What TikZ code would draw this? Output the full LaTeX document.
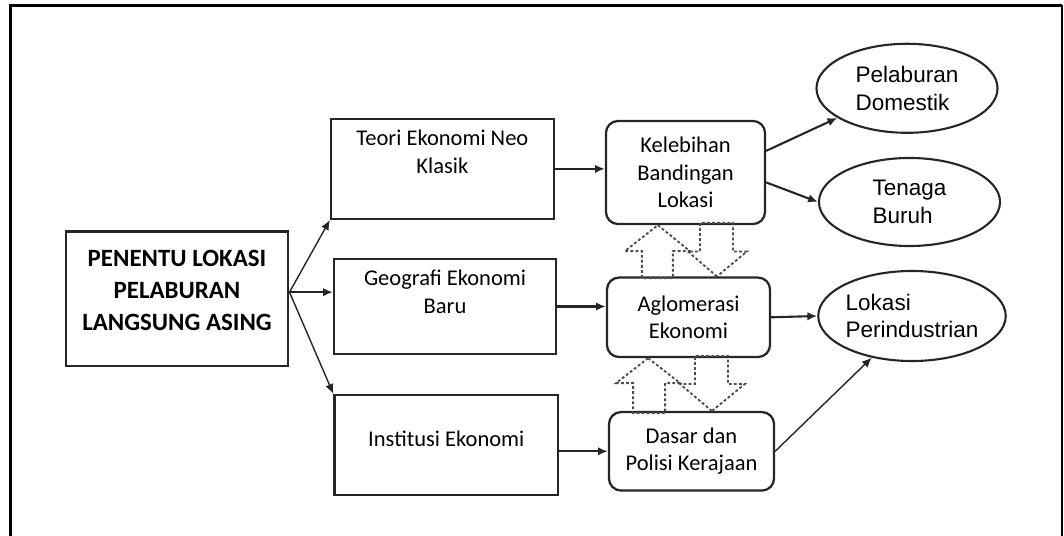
\documentclass[tikz,border=0pt]{standalone}
\usepackage{fontspec}
\setmainfont{Carlito}
\newfontfamily\ellfont{Liberation Sans}
\usetikzlibrary{shapes.geometric,arrows.meta}

\tikzset{
	sqbox/.style={draw=black!85, line width=1.6pt, align=center, text=black, font=\fontsize{16}{19.5}\selectfont},
	rbox/.style={sqbox, rounded corners=0.3cm},
	ell/.style={ellipse, draw=black!85, line width=1.5pt, align=left, inner sep=0pt, text=black, font=\ellfont\fontsize{16}{19.5}\selectfont},
	toptext/.style={anchor=north, align=center, inner sep=0pt, yshift=-0.3cm, text=black, font=\fontsize{16}{19.5}\selectfont},
	midtext/.style={anchor=center, align=center, inner sep=0pt, text=black, font=\fontsize{16}{19.5}\selectfont},
	arr/.style={-{Latex[length=7pt,width=6pt]}, line width=1.5pt, black!85},
	thinarr/.style={arr, line width=1pt},
	blk/.style={draw=black!70, line width=1.3pt, dash pattern=on 2pt off 1.6pt}
}

\begin{document}
\begin{tikzpicture}[x=0.025cm, y=-0.025cm]
	\useasboundingbox (0,0) rectangle (1064,536);
	% frame
	\draw[line width=2.2pt] (10.5,536) -- (10.5,5.5) -- (1062,5.5);
	\draw[line width=1.4pt] (1062,5.5) -- (1062,536);

	% left
	\node[sqbox, line width=1.8pt, minimum width=5.56cm, minimum height=3.36cm, label={[midtext, yshift=0.2cm, font=\bfseries\fontsize{17.7}{22.8}\selectfont]center:PENENTU LOKASI\\PELABURAN\\LANGSUNG ASING}] (main) at (177,298.6) {};

	% middle column
	\node[sqbox, minimum width=5.57cm, minimum height=2.5cm, label={[toptext]north:Teori Ekonomi Neo\\Klasik}] (teori) at (442.4,168.9) {};
	\node[sqbox, minimum width=5.55cm, minimum height=2.375cm, label={[toptext]north:Geografi Ekonomi\\Baru}] (geografi) at (445,306.5) {};
	\node[sqbox, minimum width=5.59cm, minimum height=2.5cm, label={[midtext, yshift=0.15cm]center:Institusi Ekonomi}] (institusi) at (446.3,445) {};

	% rounded boxes
	\node[rbox, minimum width=3.975cm, minimum height=2.575cm] (kelebihan) at (685.5,172.5) {Kelebihan\\Bandingan\\Lokasi};
	\node[rbox, minimum width=4.075cm, minimum height=1.985cm] (aglomerasi) at (688.5,317.3) {Aglomerasi\\Ekonomi};
	\node[rbox, minimum width=4.125cm, minimum height=1.96cm] (dasar) at (691.5,451.3) {Dasar dan\\Polisi Kerajaan};

	% ellipses
	\node[ell, minimum width=4.525cm, minimum height=2.225cm] (pelaburan) at (907,88.3) {Pelaburan\\Domestik};
	\node[ell, minimum width=4.525cm, minimum height=2.2cm] (tenaga) at (909.5,202) {Tenaga\\Buruh};
	\node[ell, minimum width=4.5cm, minimum height=2.25cm] (lokasi) at (912,316) {Lokasi\\Perindustrian};

	% connectors
	\coordinate (fork) at ([yshift=0.16cm]main.east);
	\draw[thinarr] (fork) -- (teori.south west);
	\draw[arr] (fork) -- (fork -| geografi.west);
	\draw[thinarr] (fork) -- (institusi.north west);
	\draw[arr] (teori.east) -- (teori.east -| kelebihan.west);
	\draw[arr] (geografi.east) -- (geografi.east -| aglomerasi.west);
	\draw[arr] (dasar.west -| institusi.east) -- (dasar.west);
	\draw[arr] (kelebihan.15) -- (pelaburan.203);
	\draw[arr] (kelebihan.-7) -- (tenaga.west);
	\draw[arr] (aglomerasi.east) -- (lokasi.west);
	\draw[thinarr] (dasar.east) -- (lokasi.226);

	% dotted block arrows
	\draw[blk] ([xshift=-0.69cm]kelebihan.south) -- ++(32,26) -- ++(-17,0) -- ++(0,27) -- ++(-31,0) -- ++(0,-27) -- ++(-17,0) -- cycle;
	\draw[blk] ([xshift=0.71cm]aglomerasi.north) -- ++(-29,-25) -- ++(12,0) -- ++(0,-28.6) -- ++(33,0) -- ++(0,28.6) -- ++(14,0) -- cycle;
	\draw[blk] ([xshift=-1.01cm]aglomerasi.south) -- ++(32,25) -- ++(-15,0) -- ++(0,30) -- ++(-32,0) -- ++(0,-30) -- ++(-17,0) -- cycle;
	\draw[blk] ([xshift=0.51cm]dasar.north) -- ++(-32,-27) -- ++(15,0) -- ++(0,-28) -- ++(33,0) -- ++(0,28) -- ++(17,0) -- cycle;
\end{tikzpicture}
\end{document}
